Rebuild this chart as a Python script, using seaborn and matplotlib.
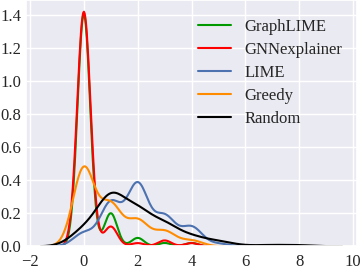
import numpy as np
import matplotlib
matplotlib.use("Agg")
import matplotlib.pyplot as plt
import seaborn as sns

methods = ["GraphLIME", "GNNexplainer", "LIME", "Greedy", "Random"]

graphlime_values = [0, 1, 2, 3, 4]
graphlime_counts = [828, 118, 30, 12, 12]

gnnexplainer_values = [0, 1, 2, 3, 4]
gnnexplainer_counts = [880, 74, 12, 22, 12]

lime_values = [0, 1, 2, 3, 4, 5]
lime_counts = [78, 258, 369, 177, 115, 15]

greedy_values = [0, 1, 2, 3, 4]
greedy_counts = [486, 253, 158, 92, 36]

random_values = [0, 1, 2, 3, 4, 5, 6, 7, 8]
random_counts = [125, 400, 265, 165, 72, 38, 5, 10, 9]

# ---- style ----
colors = {"GraphLIME": "#009900", "GNNexplainer": "#ff0000", "LIME": "#4c72b0",
          "Greedy": "#ff8c00", "Random": "#000000"}
kernel_sd = {"GraphLIME": 0.235, "GNNexplainer": 0.247, "LIME": 0.39,
             "Greedy": 0.40, "Random": 0.53}

sns.set_theme(style="darkgrid")
plt.rcParams["font.family"] = ["Liberation Serif", "DejaVu Serif"]
plt.rcParams["axes.unicode_minus"] = True

fig, ax = plt.subplots(figsize=(3.6, 2.69), dpi=100)
fig.subplots_adjust(left=0.0722, right=0.992, bottom=0.0844, top=1.0)

series = {
    "GraphLIME": (graphlime_values, graphlime_counts),
    "GNNexplainer": (gnnexplainer_values, gnnexplainer_counts),
    "LIME": (lime_values, lime_counts),
    "Greedy": (greedy_values, greedy_counts),
    "Random": (random_values, random_counts),
}

for m in methods:
    vals, counts = series[m]
    sample = np.repeat(np.asarray(vals, dtype=float), counts)
    sd = np.std(sample, ddof=1)
    sns.kdeplot(x=sample, bw_method=kernel_sd[m] / sd,
                color=colors[m], lw=1.5, label=m, ax=ax)

ax.set_xlabel("")
ax.set_ylabel("")
ax.set_xticks([-2, 0, 2, 4, 6, 8, 10])
ax.set_yticks([0.0, 0.2, 0.4, 0.6, 0.8, 1.0, 1.2, 1.4])
ax.set_yticklabels([f"{v:.1f}" for v in ax.get_yticks()])
ax.tick_params(labelsize=12, length=0)
ax.tick_params(axis="y", pad=3.5)
ax.tick_params(axis="x", pad=5.5)
ax.legend(frameon=False, loc="upper right", bbox_to_anchor=(1.0, 0.984),
          fontsize=12, labelspacing=0.42)

fig.savefig("out.png", dpi=100)
